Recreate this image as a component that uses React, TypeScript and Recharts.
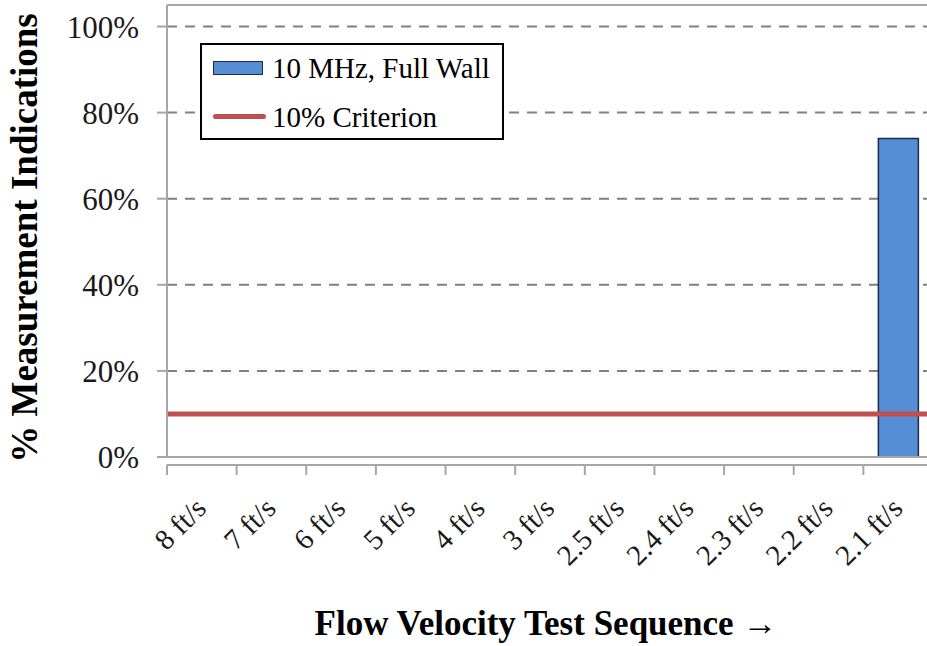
import React from 'react';
import {
  BarChart,
  Bar,
  XAxis,
  YAxis,
  CartesianGrid,
  ReferenceLine,
  Legend,
} from 'recharts';

const CATEGORIES = [
  '8 ft/s',
  '7 ft/s',
  '6 ft/s',
  '5 ft/s',
  '4 ft/s',
  '3 ft/s',
  '2.5 ft/s',
  '2.4 ft/s',
  '2.3 ft/s',
  '2.2 ft/s',
  '2.1 ft/s',
];
const FULL_WALL = [0, 0, 0, 0, 0, 0, 0, 0, 0, 0, 0.74];
const CRITERION = 0.1;
const Y_TICKS = [0, 0.2, 0.4, 0.6, 0.8, 1];

const SERIF = 'Liberation Serif';
const AXIS_GRAY = '#A6A6A6';
const BAR_BLUE = '#558ED5';
const RED = '#C0504D';

const CHART_W = 940;
const CHART_H = 646;
const Y_AXIS_W = 167;
const MARGIN_RIGHT = 7;
const PLOT_W = CHART_W - Y_AXIS_W - MARGIN_RIGHT;
const BAND = PLOT_W / CATEGORIES.length;

const chartData = CATEGORIES.map((cat, i) => ({
  cat,
  fullWall: FULL_WALL[i],
}));

const pct = (v: number) => `${Math.round(v * 100)}%`;

// category axis sits a few px below the plot, ticks on band boundaries
const CategoryTick = ({ x, y, payload, index }: any) => {
  const half = BAND / 2;
  const lineY = y + 8;
  const isLast = index === CATEGORIES.length - 1;
  const tx = x + 6;
  const ty = y + 53;
  return (
    <g>
      <line x1={x - half} x2={x + half} y1={lineY} y2={lineY} stroke={AXIS_GRAY} strokeWidth={2} />
      <line x1={x - half} x2={x - half} y1={lineY} y2={lineY + 10} stroke={AXIS_GRAY} strokeWidth={2} />
      {isLast && (
        <line x1={x + half} x2={x + half} y1={lineY} y2={lineY + 10} stroke={AXIS_GRAY} strokeWidth={2} />
      )}
      <text
        x={tx}
        y={ty}
        transform={`rotate(-45 ${tx} ${ty})`}
        textAnchor="end"
        style={{ fontFamily: SERIF }}
        fontSize={29}
        fill="#1a1a1a"
      >
        {payload.value}
      </text>
    </g>
  );
};

const renderLegend = () => (
  <div
    style={{
      width: 300,
      height: 93,
      border: '2px solid #000',
      background: '#fff',
      fontFamily: SERIF,
      fontSize: 29,
      color: '#000',
      position: 'relative',
    }}
  >
    <div style={{ position: 'absolute', left: 11, top: 16, width: 48, height: 12, background: BAR_BLUE, border: '1.5px solid #1F2A44' }} />
    <div style={{ position: 'absolute', left: 70, top: 5, whiteSpace: 'nowrap', lineHeight: '36px' }}>10 MHz, Full Wall</div>
    <div style={{ position: 'absolute', left: 11, top: 69, width: 53, height: 5, background: RED, borderRadius: 3 }} />
    <div style={{ position: 'absolute', left: 70, top: 54, whiteSpace: 'nowrap', lineHeight: '36px' }}>10% Criterion</div>
  </div>
);

export default function App() {
  return (
    <div
      style={{
        position: 'absolute',
        left: 0,
        top: 0,
        width: 927,
        height: 646,
        overflow: 'hidden',
        background: '#fff',
        fontFamily: SERIF,
      }}
    >
      <BarChart
        width={CHART_W}
        height={CHART_H}
        data={chartData}
        margin={{ top: 5, right: MARGIN_RIGHT, left: 0, bottom: 0 }}
        style={{ fontFamily: SERIF }}
      >
        <CartesianGrid
          vertical={false}
          stroke="#808080"
          strokeWidth={2}
          strokeDasharray="10 8"
        />
        <XAxis
          dataKey="cat"
          height={189}
          interval={0}
          axisLine={false}
          tickLine={false}
          tickSize={0}
          tickMargin={0}
          tick={<CategoryTick />}
          label={{
            content: () => (
              <text
                x={546}
                y={635}
                textAnchor="middle"
                style={{ fontFamily: SERIF }}
                fontWeight="bold"
                fontSize={35}
                fill="#000"
              >
                Flow Velocity Test Sequence →
              </text>
            ),
          }}
        />
        <YAxis
          width={Y_AXIS_W}
          domain={[0, 1.05]}
          ticks={Y_TICKS}
          tickFormatter={pct}
          axisLine={{ stroke: AXIS_GRAY, strokeWidth: 2 }}
          tickLine={{ stroke: AXIS_GRAY, strokeWidth: 2 }}
          tickSize={10}
          tickMargin={18}
          tick={{ fontFamily: SERIF, fontSize: 31, fill: '#1a1a1a' }}
          label={{
            content: () => (
              <text
                x={37}
                y={238}
                transform="rotate(-90 37 238)"
                textAnchor="middle"
                style={{ fontFamily: SERIF }}
                fontWeight="bold"
                fontSize={37}
                fill="#000"
              >
                % Measurement Indications
              </text>
            ),
          }}
        />
        <ReferenceLine y={1.05} stroke={AXIS_GRAY} strokeWidth={2} />
        <ReferenceLine y={0} stroke={AXIS_GRAY} strokeWidth={2} />
        <Bar
          dataKey="fullWall"
          fill={BAR_BLUE}
          stroke="#1F2A44"
          strokeWidth={1.5}
          barSize={40}
          isAnimationActive={false}
        />
        <ReferenceLine y={CRITERION} stroke={RED} strokeWidth={5} />
        <Legend
          layout="horizontal"
          verticalAlign="middle"
          align="center"
          content={renderLegend}
          wrapperStyle={{ left: 200, top: 43, width: 304, height: 97 }}
        />
      </BarChart>
    </div>
  );
}
